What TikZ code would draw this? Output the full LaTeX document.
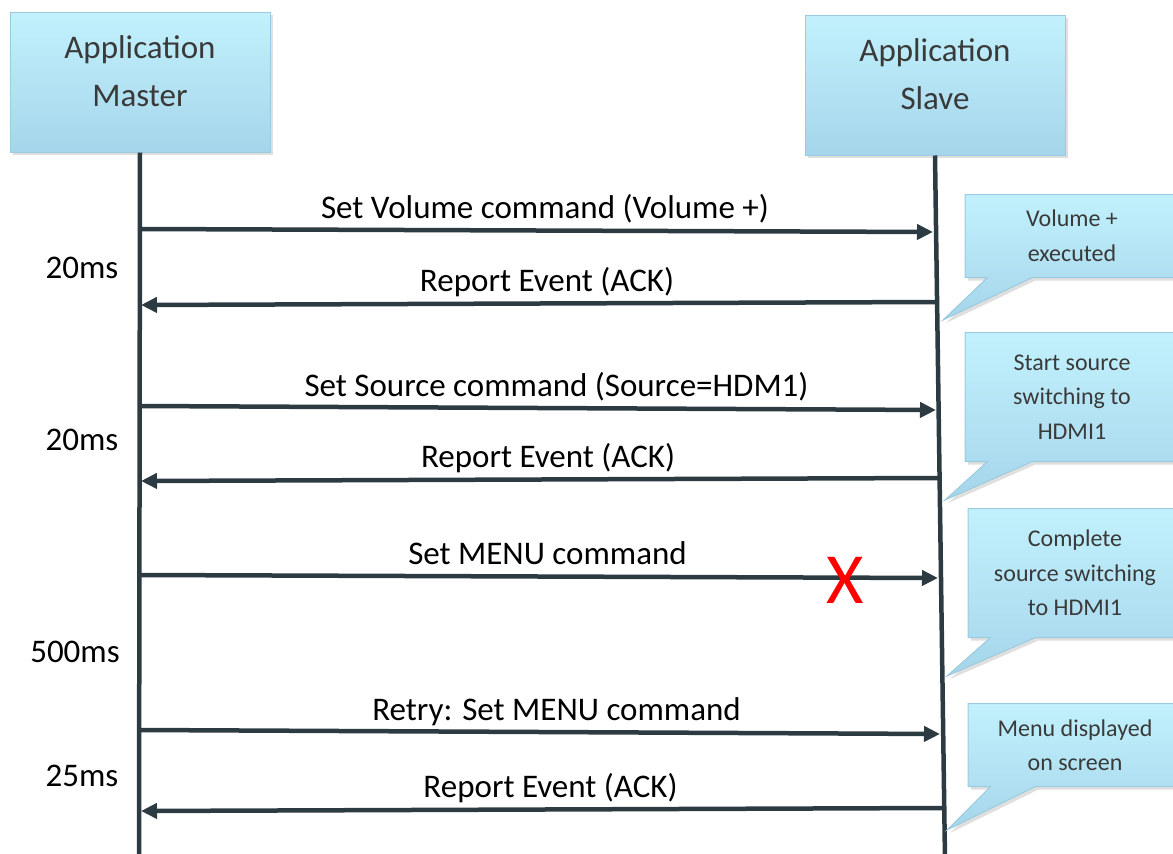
\documentclass[tikz,border=0pt]{standalone}
\usepackage{fontspec}
\setmainfont{Carlito}
\usetikzlibrary{arrows.meta,shapes.callouts,shadows}
\definecolor{boxtop}{HTML}{C2F1FD}
\definecolor{boxbot}{HTML}{A5D5EA}
\definecolor{boxline}{HTML}{9CCBE0}
\definecolor{lifeline}{HTML}{2C3A41}
\definecolor{txtgray}{HTML}{3A3A3A}
\begin{document}
\begin{tikzpicture}[x=1pt, y=-1pt,
    actor/.style={rectangle, minimum width=260pt, minimum height=140pt, top color=boxtop, bottom color=boxbot, draw=boxline, line width=1pt, drop shadow={shadow xshift=3pt, shadow yshift=-3pt, opacity=0.25}},
    actortext/.style={align=center, text=txtgray, font=\fontsize{33}{48}\selectfont},
    life/.style={draw=lifeline, line width=4.5pt},
    msg/.style={draw=lifeline, line width=4.5pt, -{Triangle[length=16pt,width=15pt]}},
    msgtext/.style={midway, anchor=base, yshift=12pt, xshift=8pt, text=black, font=\fontsize{33}{40}\selectfont},
    timetext/.style={text=black, font=\fontsize{33}{40}\selectfont},
    note/.style={rectangle callout, minimum width=214pt, callout pointer width=45pt, top color=boxtop, bottom color=boxbot, draw=boxline, line width=1pt, align=center, text=txtgray, font=\fontsize{24}{34.5}\selectfont, drop shadow={shadow xshift=3pt, shadow yshift=-3pt, opacity=0.25}}]
        \useasboundingbox (0,0) rectangle (1173,854);
        \clip (0,0) rectangle (1173,854);
        % participants
        \node[actor] (master) at (140,82) {};
        \node[actortext] (mastertxt) at ([yshift=11pt]master.center) {Application\\Master};
        \node[actor] (slave) at (935,85) {};
        \node[actortext] (slavetxt) at ([yshift=11pt]slave.center) {Application\\Slave};
        \coordinate (mend) at (139,860);
        \coordinate (send) at (945,860);
        \draw[life] (master.south) -- (mend);
        \draw[life] (slave.south) -- (send);
        % message ends
        \coordinate (m1) at (141,229); \coordinate (s1) at (933,232);
        \coordinate (s2) at (937,302); \coordinate (m2) at (141,305);
        \coordinate (m3) at (141,406); \coordinate (s3) at (936,410);
        \coordinate (s4) at (939,478); \coordinate (m4) at (141,481);
        \coordinate (m5) at (141,575); \coordinate (s5) at (938,578);
        \coordinate (m6) at (141,730); \coordinate (s6) at (940,734);
        \coordinate (s7) at (944,808); \coordinate (m7) at (141,811);
        \draw[msg] (m1) -- (s1) node[msgtext] {Set Volume command (Volume +)};
        \draw[msg] (s2) -- (m2) node[msgtext] {Report Event (ACK)};
        \draw[msg] (m3) -- (s3) node[msgtext, xshift=10pt] {Set Source command (Source=HDM1)};
        \draw[msg] (s4) -- (m4) node[msgtext] {Report Event (ACK)};
        \draw[msg] (m5) -- (s5) node[msgtext] {Set MENU command};
        \draw[msg] (m6) -- (s6) node[msgtext, xshift=8pt] {Retry: Set MENU command};
        \draw[msg] (s7) -- (m7) node[msgtext] {Report Event (ACK)};
        \node[text=red, font=\fontsize{72}{72}\selectfont] (lost) at (845,580) {X};
        % delays
        \node[timetext] (d1) at (82,268) {20ms};
        \node[timetext] (d2) at (82,440) {20ms};
        \node[timetext] (d3) at (75,652) {500ms};
        \node[timetext] (d4) at (82,776) {25ms};
        % notes on the slave
        \coordinate (t1) at (943,320);
        \coordinate (t2) at (945,500);
        \coordinate (t3) at (947,676);
        \coordinate (t4) at (947,830);
        \node[note, minimum height=83pt, callout absolute pointer={(t1)}] (n1) at (1072,236) {Volume +\\executed};
        \node[note, minimum height=129pt, callout absolute pointer={(t2)}] (n2) at (1072,397) {Start source\\switching to\\HDMI1};
        \node[note, minimum height=129pt, callout absolute pointer={(t3)}] (n3) at (1075,573) {Complete\\source switching\\to HDMI1};
        \node[note, minimum height=83pt, callout absolute pointer={(t4)}] (n4) at (1075,745) {Menu displayed\\on screen};
    \end{tikzpicture}
\end{document}
